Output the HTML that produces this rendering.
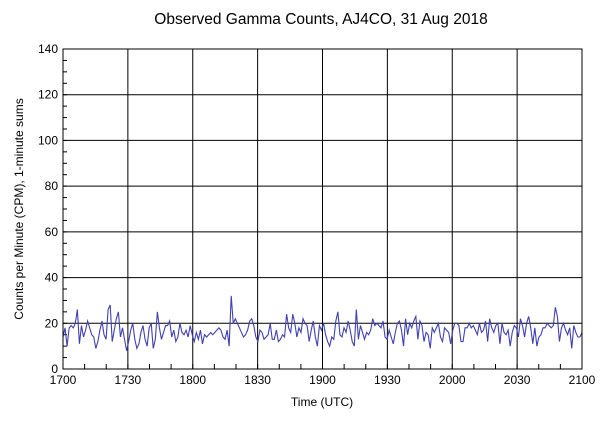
<!DOCTYPE html>
<html><head><meta charset="utf-8"><style>
body{margin:0;background:#fff;}
svg text{font-family:"Liberation Sans",sans-serif;font-size:12px;fill:#000;}
</style></head><body>
<svg id="chart" width="600" height="428" xmlns="http://www.w3.org/2000/svg">
<text x="321" y="24" text-anchor="middle" style="font-size:15.5px">Observed Gamma Counts, AJ4CO, 31 Aug 2018</text>
<g id="grid"></g>
<g id="ticks"></g>
<g id="xlabels"></g>
<g id="ylabels"></g>
<path id="series" fill="none" stroke="#4040b0" stroke-width="1.1"/>
<rect x="63" y="49" width="519" height="320" fill="none" stroke="#000" stroke-width="1"/>
<text x="322" y="406" text-anchor="middle">Time (UTC)</text>
<text transform="translate(23,209) rotate(-90)" text-anchor="middle">Counts per Minute (CPM), 1-minute sums</text>
</svg>
<script>
const xTickLabels=["1700","1730","1800","1830","1900","1930","2000","2030","2100"];
const yTickValues=[0,20,40,60,80,100,120,140];
const counts=[14,18,10,18,19,18,20,26,11,19,14,17,21,18,15,14,9,12,17,21,15,13,26,28,12,17,22,25,14,18,13,8,12,17,20,13,9,11,16,19,13,10,18,20,9,13,25,18,13,16,19,19,21,14,17,12,14,20,16,15,
 17,14,19,15,12,16,
 13,17,11,15,14,15,16,15,16,17,18,17,14,13,17,10,32,20,22,20,18,16,14,15,17,21,22,19,14,12,17,16,13,14,15,20,13,13,17,12,13,15,14,24,18,16,24,20,14,18,16,22,20,19,12,17,21,14,10,19,
 17,20,15,12,10,14,13,21,25,15,14,18,16,21,17,12,10,26,13,19,16,13,16,15,17,22,19,20,19,18,21,14,13,17,14,11,16,20,21,17,10,22,15,20,18,21,23,13,21,19,12,16,15,9,
 18,16,18,20,14,12,18,17,16,11,17,20,20,19,12,12,18,18,20,18,19,17,15,20,16,17,21,12,22,18,16,19,20,11,20,16,15,17,10,16,19,18,14,22,19,14,20,23,18,11,18,10,14,15,18,18,20,19,18,19,27,23,12,18,20,17,15,18,9,19,16,14,14,16];
const X0=63,X1=582,Y0=369,Y1=49,YMAX=140,NMIN=240;
const xs=m=>X0+(X1-X0)*m/NMIN, ys=v=>Y0-(Y0-Y1)*v/YMAX;
const ns="http://www.w3.org/2000/svg";
function mk(p,t,a){const e=document.createElementNS(ns,t);for(const k in a)e.setAttribute(k,a[k]);p.appendChild(e);return e;}
const grid=document.getElementById('grid'),ticks=document.getElementById('ticks');
const xl=document.getElementById('xlabels'),yl=document.getElementById('ylabels');
xTickLabels.forEach((l,i)=>{const x=xs(i*30);
 const g=mk(grid,'line',{x1:x,x2:x,y1:Y1,y2:Y0,stroke:'#000'});
 
 
 const t=mk(xl,'text',{x:x,y:384,'text-anchor':'middle'});t.textContent=l;
 
 });
for(let m=0;m<=NMIN;m+=10){const x=xs(m);const e=mk(ticks,'line',{x1:x,x2:x,y1:Y0,y2:Y0-5,stroke:'#000'});
 
 }
yTickValues.forEach(v=>{const y=ys(v);
 const g=mk(grid,'line',{x1:X0,x2:X1,y1:y,y2:y,stroke:'#000'});
 
 
 const t=mk(yl,'text',{x:58,y:y+4,'text-anchor':'end'});t.textContent=v;
 
 });
for(let v=0;v<=YMAX;v+=5){const y=ys(v);const e=mk(ticks,'line',{x1:X0,x2:X0+4,y1:y,y2:y,stroke:'#000'});
 
 }
const step=NMIN/(counts.length-1);
document.getElementById('series').setAttribute('d',counts.map((v,i)=>(i?'L':'M')+xs(i*step).toFixed(2)+','+ys(v).toFixed(2)).join(''));
</script>
</body></html>
